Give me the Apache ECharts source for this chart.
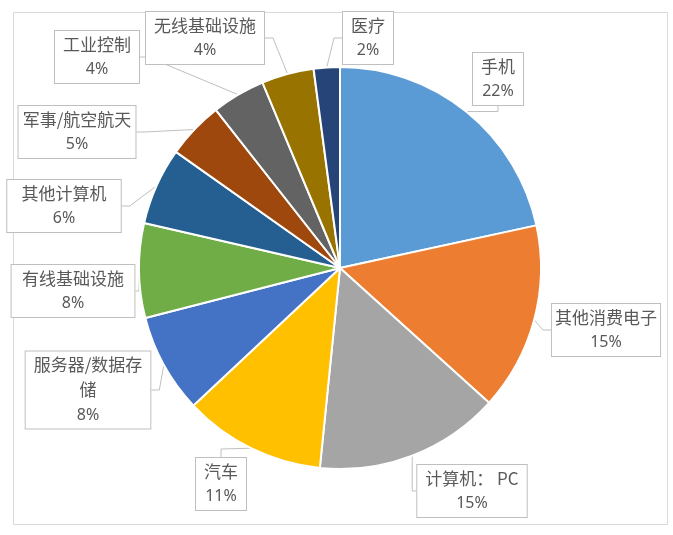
<!DOCTYPE html>
<html><head><meta charset="utf-8">
<script src="https://cdn.jsdelivr.net/npm/echarts@6/dist/echarts.min.js"></script>
<style>html,body{margin:0;padding:0;background:#fff}#c{width:673px;height:535px}</style>
</head><body><div id="c"></div>
<script>
const categories = ['手机','其他消费电子','计算机： PC','汽车','服务器/数据存储','有线基础设施','其他计算机','军事/航空航天','工业控制','无线基础设施','医疗'];
const shares = [21.6, 15.1, 14.9, 11.4, 8.0, 7.6, 6.2, 4.6, 4.3, 4.2, 2.1];
const colors = ['#5B9BD5','#ED7D31','#A5A5A5','#FFC000','#4472C4','#70AD47','#255E91','#9E480E','#636363','#997300','#264478'];
// label box centres (layout only)
const labelPos = [[498,79],[606,330],[472,491],[221,484],[88,390],[73,291],[64,206],[77,132],[97,57],[205,38],[368,38]];
const chart = echarts.init(document.getElementById('c'), null, {renderer:'canvas'});
chart.setOption({
  animation:false,
  color: colors,
  graphic:[{type:'rect', shape:{x:13.5,y:12.5,width:654,height:512}, style:{fill:'none', stroke:'#d9d9d9', lineWidth:1}, z:-1}],
  series:[{
    type:'pie', center:[340,268], radius:201, startAngle:90, clockwise:true,
    itemStyle:{borderColor:'#fff', borderWidth:2},
    data: categories.map((c,i)=>({name:c, value:shares[i]})),
    label:{
      show:true, position:'outside', overflow:'none',
      formatter: p => {
        let n = p.name;
        if (n.length > 7 && n.indexOf(' ') < 0) n = n.slice(0,7) + '}\n{n|' + n.slice(7);
        return '{n|' + n + '}\n{p|' + Math.round(p.value) + '%}';
      },
      rich:{
        n:{fontFamily:'"Noto Sans CJK SC", sans-serif', fontSize:17, lineHeight:25, color:'#595959'},
        p:{fontFamily:'"Noto Sans", "Open Sans", sans-serif', fontSize:16, lineHeight:25, color:'#595959'}
      },
      color:'#595959', backgroundColor:'#fff', borderColor:'#bfbfbf', borderWidth:1,
      padding:[1,8,1,8], align:'center'
    },
    labelLine:{show:true, length:8, length2:8, lineStyle:{color:'#bfbfbf', width:1}},
    labelLayout: function(params){
      const pos = labelPos[params.dataIndex];
      return {x: pos[0], y: pos[1], align:'center', verticalAlign:'middle'};
    }
  }]
});
</script></body></html>
